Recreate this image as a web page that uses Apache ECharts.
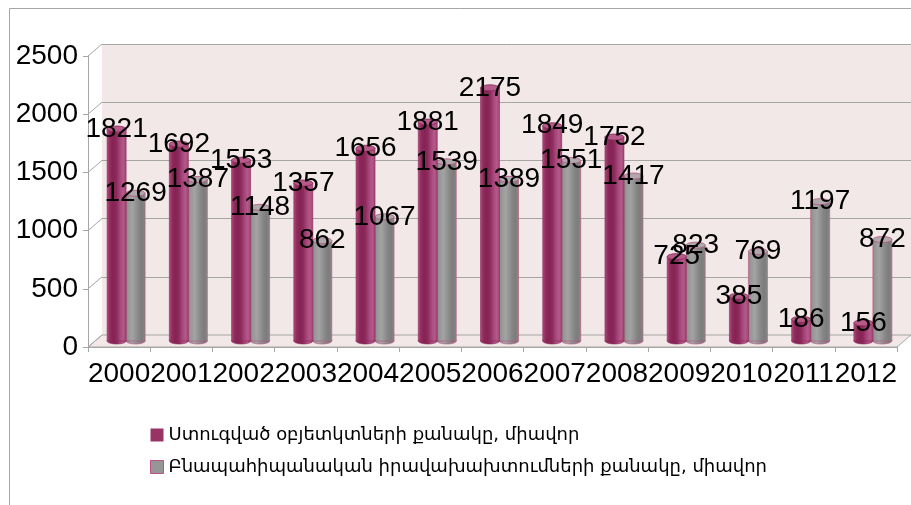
<!DOCTYPE html>
<html>
<head>
<meta charset="utf-8">
<script src="https://cdn.jsdelivr.net/npm/echarts@6/dist/echarts.min.js"></script>
<style>
  html, body { margin: 0; padding: 0; background: #ffffff; }
  #chart { width: 911px; height: 505px; }
</style>
</head>
<body>
<div id="chart"></div>
<script>
// Years on the category axis
const years = ['2000','2001','2002','2003','2004','2005','2006','2007','2008','2009','2010','2011','2012'];
// Number of constructed objects, units
const builtObjects = [1821, 1692, 1553, 1357, 1656, 1881, 2175, 1849, 1752, 725, 385, 186, 156];
// Number of natural-resource-use permits, units
const permits = [1269, 1387, 1148, 862, 1067, 1539, 1389, 1551, 1417, 823, 769, 1197, 872];
// Value axis ticks
const yTicks = [0, 500, 1000, 1500, 2000, 2500];

const nameBuilt = 'Ստուգված օբյետկտների քանակը, միավոր';
const namePermits = 'Բնապահիպանական իրավախախտումների քանակը, միավոր';

// perspective offset of the back wall relative to the front frame
const DX = 14, DY = -12;
const wallColor = '#f2e8e8';
const lineColor = '#a6a6a6';
const labelFont = 'Liberation Sans';

const chart = echarts.init(document.getElementById('chart'), null, { renderer: 'canvas' });

function hGrad(stops) {
  return new echarts.graphic.LinearGradient(0, 0, 1, 0, stops.map((c, i) => ({ offset: i / (stops.length - 1), color: c })));
}

const palettes = [
  { // magenta cylinders
    body: hGrad(['#b4507f', '#8e2a5c', '#862355', '#8e2b5d', '#a5457a', '#b35a88', '#a34276']),
    top: '#b65a8a', edge: '#8a2858', off: -9.5
  },
  { // gray cylinders
    body: hGrad(['#8c8c8c', '#9a9a9a', '#a3a3a3', '#949494', '#858585', '#7c7c7c', '#8a8a8a']),
    top: '#b0a8ac', edge: '#b8507f', off: 9.5
  }
];

function cylinder(p) {
  return function (params, api) {
    const idx = api.value(0);
    const top = api.coord([idx, api.value(1)]);
    const base = api.coord([idx, 0]);
    const w = 19, ry = 3;
    const cx = top[0] + p.off;
    return {
      type: 'group',
      children: [
        { type: 'ellipse', shape: { cx: cx, cy: base[1], rx: w / 2, ry: ry },
          style: { fill: p.body, stroke: p.edge, lineWidth: 0.6 } },
        { type: 'rect', shape: { x: cx - w / 2, y: top[1], width: w, height: base[1] - top[1] },
          style: { fill: p.body, stroke: p.edge, lineWidth: 0.6 } },
        { type: 'ellipse', shape: { cx: cx, cy: top[1], rx: w / 2, ry: ry },
          style: { fill: p.top, stroke: p.edge, lineWidth: 0.8 } }
      ]
    };
  };
}

// value labels centred on each cylinder top
function valueLabel(off) {
  return function (params, api) {
    const idx = api.value(0);
    const top = api.coord([idx, api.value(1)]);
    return {
      type: 'text',
      x: top[0] + off, y: top[1],
      style: { text: String(api.value(1)), fontFamily: labelFont, fontSize: 28, fill: '#000',
               align: 'center', verticalAlign: 'middle' }
    };
  };
}

// floor and side edges of the 3D frame, built from the front grid's scale
function frame(params, api) {
  const cs = params.coordSys;
  const bottom = cs.y + cs.height;
  const right = cs.x + cs.width;
  const children = [
    { type: 'polygon', shape: { points: [[cs.x, bottom], [right, bottom], [right + DX, bottom + DY], [cs.x + DX, bottom + DY]] },
      style: { fill: wallColor, stroke: lineColor, lineWidth: 1 } }
  ];
  yTicks.forEach(v => {
    const y = api.coord([0, v])[1];
    children.push({ type: 'line', shape: { x1: cs.x, y1: y, x2: cs.x + DX, y2: y + DY },
      style: { stroke: lineColor, lineWidth: 1 } });
  });
  return { type: 'group', children: children };
}

const axisText = { fontFamily: labelFont, fontSize: 28, color: '#000' };

chart.setOption({
  animation: false,
  backgroundColor: '#ffffff',
  graphic: [{
    type: 'rect', left: 7, top: 6, shape: { width: 1000, height: 1000 },
    style: { fill: 'none', stroke: '#a6a6a6', lineWidth: 1 }, silent: true, z: 0
  }],
  legend: {
    orient: 'vertical', left: 145, top: 421,
    itemWidth: 13, itemHeight: 13, itemGap: 14,
    textStyle: { fontFamily: 'DejaVu Sans', fontSize: 18, color: '#000' },
    data: [
      { name: nameBuilt, icon: 'rect', itemStyle: { color: '#993366', borderWidth: 0 } },
      { name: namePermits, icon: 'rect', itemStyle: { color: '#969696', borderColor: '#c0508a', borderWidth: 1 } }
    ]
  },
  grid: [
    // back wall
    { left: 88 + DX, right: 14 - DX, top: 56 + DY, bottom: 158 - DY, show: true, backgroundColor: wallColor, borderWidth: 0 },
    // front frame with the visible axes
    { left: 88, right: 14, top: 56, bottom: 158 },
    // middle depth where the cylinders stand
    { left: 88 + DX / 2, right: 14 - DX / 2, top: 56 + DY / 2, bottom: 158 - DY / 2 }
  ],
  xAxis: [
    { gridIndex: 0, type: 'category', data: years, show: false },
    { gridIndex: 1, type: 'category', data: years,
      axisLine: { lineStyle: { color: lineColor } },
      axisTick: { show: true, length: 5, lineStyle: { color: lineColor } },
      axisLabel: Object.assign({ margin: 13, interval: 0 }, axisText) },
    { gridIndex: 2, type: 'category', data: years, show: false }
  ],
  yAxis: [
    { gridIndex: 0, type: 'value', min: 0, max: 2500, interval: 500,
      axisLabel: { show: false }, axisLine: { show: false }, axisTick: { show: false },
      splitLine: { show: true, lineStyle: { color: lineColor, width: 1 } } },
    { gridIndex: 1, type: 'value', min: 0, max: 2500, interval: 500,
      axisLine: { show: true, lineStyle: { color: lineColor } },
      axisTick: { show: true, length: 5, lineStyle: { color: lineColor } },
      splitLine: { show: false },
      axisLabel: Object.assign({ margin: 10, formatter: v => String(v) }, axisText) },
    { gridIndex: 2, type: 'value', min: 0, max: 2500, interval: 500, show: false, splitLine: { show: false } }
  ],
  series: [
    { type: 'custom', name: 'frame', xAxisIndex: 1, yAxisIndex: 1, data: [[0, 0]],
      renderItem: frame, silent: true, z: 1 },
    { type: 'custom', name: namePermits, xAxisIndex: 2, yAxisIndex: 2,
      itemStyle: { color: '#969696' },
      data: permits.map((v, i) => [i, v]), encode: { x: 0, y: 1 },
      renderItem: cylinder(palettes[1]), z: 2 },
    { type: 'custom', name: nameBuilt, xAxisIndex: 2, yAxisIndex: 2,
      itemStyle: { color: '#993366' },
      data: builtObjects.map((v, i) => [i, v]), encode: { x: 0, y: 1 },
      renderItem: cylinder(palettes[0]), z: 3 },
    { type: 'custom', name: 'builtLabels', xAxisIndex: 2, yAxisIndex: 2, silent: true, z: 5,
      data: builtObjects.map((v, i) => [i, v]), encode: { x: 0, y: 1 },
      renderItem: valueLabel(palettes[0].off) },
    { type: 'custom', name: 'permitLabels', xAxisIndex: 2, yAxisIndex: 2, silent: true, z: 6,
      data: permits.map((v, i) => [i, v]), encode: { x: 0, y: 1 },
      renderItem: valueLabel(palettes[1].off) }
  ]
});
</script>
</body>
</html>
